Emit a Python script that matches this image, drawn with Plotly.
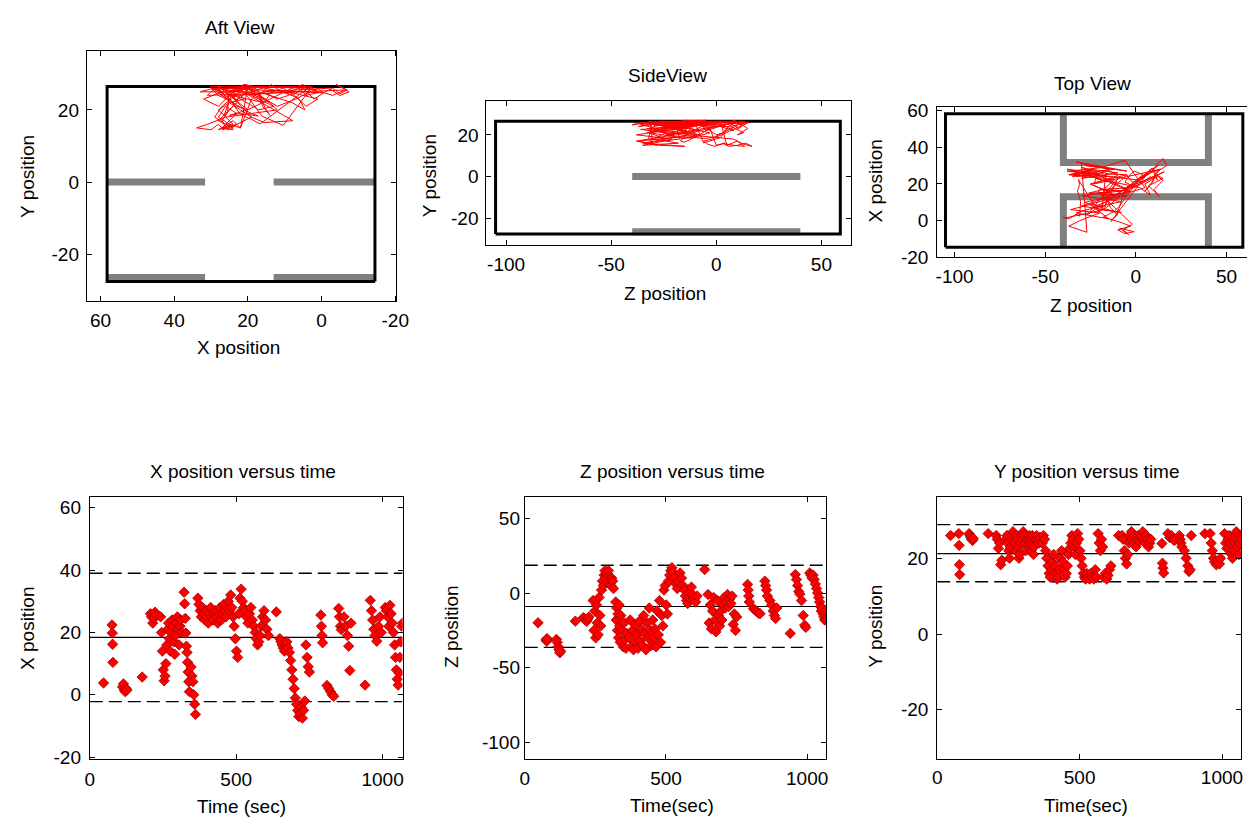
import plotly.graph_objects as go

W, H = 1260, 832

# ---------------- data: tracked positions ----------------
time_s = [47,
          76, 77, 78, 79,
          112, 115, 118, 121, 124, 127,
          179,
          207, 211, 215, 219, 223, 227,
          242, 245, 248, 251, 254, 257, 260, 263, 266, 269, 272, 275, 278, 281, 284, 287, 290, 293, 296, 299, 302, 305, 308, 311, 314,
          322, 324, 326, 328, 330, 332, 334, 336, 338, 340, 346, 349, 352, 355, 358, 361,
          369, 373, 377, 381, 385, 389, 393, 397, 401, 405, 409, 413, 417, 421, 425, 429, 433, 437, 441, 445,
          449, 453, 457, 461, 465, 469, 473, 477, 481, 485, 489, 493, 497, 501, 505, 509, 513, 517, 521, 525,
          530, 535, 540, 545, 550, 555, 560, 565, 569, 573, 577, 581, 585, 590, 595, 600, 605, 610,
          637,
          649, 653, 657, 661, 665, 669, 673, 677, 682, 686, 690, 694, 698, 702, 706, 710, 714, 718, 722, 726,
          730, 734, 738, 742, 746, 750,
          789, 791, 793, 795,
          810, 816, 822, 828, 833,
          850, 853, 856, 859, 868, 874, 880, 884, 888, 892,
          940,
          958, 962, 966, 970, 974, 980, 986, 991, 995,
          1009, 1013, 1017, 1021, 1025, 1029, 1033, 1037, 1041, 1044, 1047, 1050, 1053, 1056, 1059, 1062, 1065, 1068]

x_pos = [3.8,
         22.4, 19.8, 16.2, 10.4,
         2.5, 3.5, 1.5, 1.0, 2.0, 1.5,
         5.7,
         26.0, 25.0, 23.0, 24.5, 26.5, 25.5,
         25, 20, 14, 8, 4.5, 6, 10, 16, 21, 23, 18, 14, 20, 24, 22, 17, 13, 19, 23, 25, 21, 16, 22, 24, 20,
         32.9, 29.2, 24.5, 19.8, 15.6, 13.6, 10.4, 7.3, 4.2, 1.0, 8.9, 6.0, 4.2, 0.0, -3.0, -6.3,
         31, 29, 27, 25, 28, 26, 24, 27, 25, 23, 26, 28, 25, 24, 26, 27, 25, 23, 26, 28,
         24, 26, 29, 27, 25, 28, 30, 27, 32, 28, 25, 22, 18, 14, 12, 26, 31, 33.9, 30, 28,
         27, 25, 23, 26, 28, 24, 22, 20, 18, 16, 17, 19, 22, 25, 27, 24, 21, 19,
         26.6,
         18, 17, 16, 15, 14, 16, 17, 15, 13.6, 11, 8, 5, 2, -1, -3, -5, -7, -6, -4, -7.5,
         -5, -2, 16, 12, 9, 7.3,
         25.6, 22, 19, 16.7,
         3.0, 2.0, 1.0, 0.0, -0.5,
         27.7, 25, 22, 20.9, 25, 22, 19, 15.6, 7.8, 23,
         3.1,
         30.3, 27, 24, 21, 19, 17.2, 22, 25, 20,
         28, 27, 25, 22, 28.7, 26, 23, 20, 16, 12, 8, 5, 3.1, 7, 12, 17, 22, 23]

z_pos = [-19.9,
         -31.7, -31.0, -32.2, -30.5,
         -31.0, -33.0, -36.0, -38.0, -40.0, -39.0,
         -18.8,
         -16.5, -17.0, -18.0, -19.0, -17.5, -16.0,
         -5, -25, -12, -30, -8, -20, -28, -3, -15, -22, 2, 8, 5, 12, 15, 10, 13, 7, 15, 11, 9, 5, 10, 8, 3,
         -6, -18, -10, -25, -14, -30, -8, -22, -33, -15, -25, -36, -20, -31, -37, -27,
         -30, -18, -36, -25, -38, -21, -33, -28, -37, -19, -32, -24, -35, -15, -27, -38, -20, -30, -10, -25,
         -35, -18, -30, -24, -36, -12, -28, -5, -33, -15, -22, 2, 5, -8, -14, 8, 12, 15, 17, 14,
         10, 6, 3, 8, 13.5, 10, 5, 2, -2, -5, -7, -3, 0, 4, -1, -4, -6, -2,
         15.7,
         -1, -20, -8, -24, -12, -3, -18, -26, -5, -15, -22, -12, -18, -8, -3, -10, -6, -1, -9, -4,
         -7, -2, -21, -14, -25, -16,
         5.8, 2, -2, -6,
         -10.5, -11.5, -12.5, -13.5, -13.8,
         8, 5, 2, -2, -5, -8, -12, -15, -17, -10,
         -27,
         12.4, 9, 5, 1, -0.7, -5, -15, -21.5, -23,
         13.5, 12, 10, 12, 9, 6, 3, 0, -3, -6, -9, -12, -10, -14, -16, -18, -12, -18]

y_pos = [26.0,
         26.5, 23.4, 18.3, 15.7,
         26.5, 26.0, 25.5, 25.0, 24.7, 25.2,
         26.5,
         26.0, 25.0, 22.6, 24.0, 18.3, 19.5,
         25, 26, 24, 22, 20, 23, 25, 26, 27, 25, 24, 22, 26, 25, 23, 20, 21, 24, 26, 25, 27, 26, 24, 22, 25,
         25, 26, 24, 23, 22, 25, 26, 24, 21, 23, 25, 26, 24, 25, 24, 25.5,
         24, 26, 25, 22, 20, 18, 16, 15, 17, 19, 21, 18, 16, 14.5, 15, 17, 20, 22, 19, 17,
         15, 16, 18, 21, 22.6, 24, 26, 25, 23, 21, 24, 26.5, 25, 22, 20, 18, 16, 15, 14.5, 16,
         15, 14.5, 16, 15, 14.5, 17, 15, 26.5, 24, 22, 25, 23, 15, 16, 14.5, 15.5, 17, 18,
         26.0,
         26, 25, 22, 20, 18.5, 21, 24, 26, 27, 25, 24, 26, 23, 25, 26, 24.5, 25.5, 26, 27, 25,
         24, 26, 25, 23, 24, 25,
         23.9, 18.7, 17.4, 16.1,
         26.5, 25.5, 26.0, 25.0, 24.7,
         26, 25, 24, 23, 22, 20, 18, 16.5, 17, 26,
         26.5,
         26.5, 24, 22, 20, 19, 18.3, 19, 18.5, 20,
         26.5, 24, 22.6, 25, 26, 24, 21, 20, 22, 24, 26, 27, 25, 23, 21, 24, 26, 25]

# ---------------- tank geometry ----------------
tank_x = [-14.5, 58.2]
tank_y = [-27.5, 26.5]
tank_z = [-105.0, 59.0]
baffle_y = [0.0, -26.4]
baffle_x_gap = [31.6, 13.0]
baffle_z = [-40.0, 40.0]

# ---------------- statistics lines (mean, mean +/- 2 SD) ----------------
x_stats = [18.4, 39.0, -2.2]
z_stats = [-9.0, 18.6, -36.4]
y_stats = [21.2, 28.9, 13.8]
t_span = [0, 1068]

RED = "#ff0000"
GRAY = "#808080"
FONT = "Liberation Sans"

fig = go.Figure()


def add(tr, n):
    sfx = "" if n == 1 else str(n)
    tr.update(xaxis="x" + sfx, yaxis="y" + sfx, showlegend=False, hoverinfo="skip")
    fig.add_trace(tr)


def rect(a, b):
    return [a[0], a[1], a[1], a[0], a[0]], [b[0], b[0], b[1], b[1], b[0]]


# ---- panel 1: Aft view (X vs Y)
gx, gy = [], []
for yy in baffle_y:
    gx += [tank_x[1], baffle_x_gap[0], None, baffle_x_gap[1], tank_x[0], None]
    gy += [yy, yy, None, yy, yy, None]
add(go.Scatter(x=gx, y=gy, mode="lines", line=dict(color=GRAY, width=7)), 1)
rx, ry = rect(tank_x, tank_y)
add(go.Scatter(x=rx, y=ry, mode="lines", line=dict(color="black", width=3)), 1)
add(go.Scatter(x=x_pos, y=y_pos, mode="lines", line=dict(color=RED, width=1)), 1)

# ---- panel 2: Side view (Z vs Y)
gx, gy = [], []
for yy in baffle_y:
    gx += [baffle_z[0], baffle_z[1], None]
    gy += [yy, yy, None]
add(go.Scatter(x=gx, y=gy, mode="lines", line=dict(color=GRAY, width=7)), 2)
rx, ry = rect(tank_z, tank_y)
add(go.Scatter(x=rx, y=ry, mode="lines", line=dict(color="black", width=3)), 2)
add(go.Scatter(x=z_pos, y=y_pos, mode="lines", line=dict(color=RED, width=1)), 2)

# ---- panel 3: Top view (Z vs X)
gx = [baffle_z[0], baffle_z[0], baffle_z[1], baffle_z[1], None,
      baffle_z[0], baffle_z[0], baffle_z[1], baffle_z[1]]
gy = [tank_x[1], baffle_x_gap[0], baffle_x_gap[0], tank_x[1], None,
      tank_x[0], baffle_x_gap[1], baffle_x_gap[1], tank_x[0]]
add(go.Scatter(x=gx, y=gy, mode="lines", line=dict(color=GRAY, width=7)), 3)
rx, ry = rect(tank_z, tank_x)
add(go.Scatter(x=rx, y=ry, mode="lines", line=dict(color="black", width=3)), 3)
add(go.Scatter(x=z_pos, y=x_pos, mode="lines", line=dict(color=RED, width=1)), 3)

# ---- panels 4-6: time series
for n, vals, st in [(4, x_pos, x_stats), (5, z_pos, z_stats), (6, y_pos, y_stats)]:
    add(go.Scatter(x=t_span, y=[st[1], st[1]], mode="lines",
                   line=dict(color="black", width=1.3, dash="13px,6px")), n)
    add(go.Scatter(x=t_span, y=[st[2], st[2]], mode="lines",
                   line=dict(color="black", width=1.3, dash="13px,6px")), n)
    add(go.Scatter(x=t_span, y=[st[0], st[0]], mode="lines",
                   line=dict(color="black", width=1.2)), n)
    add(go.Scatter(x=time_s, y=vals, mode="markers",
                   marker=dict(symbol="diamond", size=8, color=RED,
                               line=dict(color="#a00000", width=0.8))), n)


def px_dom(a, b):
    return [a / W, b / W]


def py_dom(top, bottom):
    return [1 - bottom / H, 1 - top / H]


def tick_txt(vals):
    return [str(v) for v in vals]


def axis(dom, rng, tv, mirror=True, standoff=0):
    return dict(domain=dom, range=rng, tickvals=tv, ticktext=tick_txt(tv),
                showline=True, linecolor="black", linewidth=1,
                mirror="ticks" if mirror else False,
                ticks="inside", ticklen=5, tickcolor="black", tickwidth=1,
                ticklabelstandoff=standoff,
                showgrid=False, zeroline=False, fixedrange=True,
                tickfont=dict(family=FONT, size=19, color="black"))


layout_axes = {
    "xaxis": axis(px_dom(83, 397), [63.7, -20.3], [60, 40, 20, 0, -20], standoff=3),
    "yaxis": axis(py_dom(45, 300), [-32.8, 36.3], [-20, 0, 20], standoff=3),
    "xaxis2": axis(px_dom(488.3, 858.3), [-109.4, 64.1], [-100, -50, 0, 50], standoff=2),
    "yaxis2": axis(py_dom(95.7, 243.3), [-32.8, 36.4], [-20, 0, 20], standoff=3),
    "xaxis3": axis([945.7 / W, 1.0], [-109.6, 61.3], [-100, -50, 0, 50], standoff=2),
    "yaxis3": axis(py_dom(102.3, 256), [-20, 61.8], [-20, 0, 20, 40, 60], mirror=False, standoff=4),
    "xaxis4": axis(px_dom(86, 403.3), t_span, [0, 500, 1000], standoff=4),
    "yaxis4": axis(py_dom(500.7, 768.3), [-20.5, 63.5], [-20, 0, 20, 40, 60], standoff=4),
    "xaxis5": axis(px_dom(527.3, 833.3), t_span, [0, 500, 1000], standoff=3),
    "yaxis5": axis(py_dom(500.7, 768.3), [-110.9, 64.4], [-100, -50, 0, 50], standoff=0),
    "xaxis6": axis(px_dom(945.7, 1254.3), t_span, [0, 500, 1000], standoff=2),
    "yaxis6": axis(py_dom(500.7, 768.3), [-32.9, 36.2], [-20, 0, 20], standoff=4),
}
for i in range(1, 7):
    sfx = "" if i == 1 else str(i)
    layout_axes["xaxis" + sfx]["anchor"] = "y" + sfx
    layout_axes["yaxis" + sfx]["anchor"] = "x" + sfx

# text labels: (text, x px, y px, angle)
labels = [
    ("Aft View", 238, 21, 0),
    ("SideView", 672, 70, 0),
    ("Top View", 1103, 78, 0),
    ("X position versus time", 241, 475, 0),
    ("Z position versus time", 677, 475, 0),
    ("Y position versus time", 1098, 475, 0),
    ("X position", 237, 348, 0),
    ("Z position", 670, 293, 0),
    ("Z position", 1102, 305, 0),
    ("Time (sec)", 240, 817, 0),
    ("Time(sec)", 677, 816, 0),
    ("Time(sec)", 1097, 816, 0),
    ("Y position", 23, 173, -90),
    ("Y position", 430, 172, -90),
    ("X position", 883, 178, -90),
    ("X position", 23, 635, -90),
    ("Z position", 453, 634, -90),
    ("Y position", 883, 633, -90),
]
annotations = [dict(text=t, x=x / W, y=1 - y / H, xref="paper", yref="paper",
                    xanchor="center", yanchor="middle", showarrow=False, textangle=a,
                    font=dict(family=FONT, size=19, color="black"))
               for t, x, y, a in labels]

fig.update_layout(width=W, height=H, margin=dict(l=0, r=0, t=0, b=0, pad=0),
                  paper_bgcolor="white", plot_bgcolor="white",
                  annotations=annotations, **layout_axes)

fig.write_html("out.html", config={"displayModeBar": False},
               post_script="document.body.style.margin='0px';"
                           "document.body.style.overflow='hidden';")
